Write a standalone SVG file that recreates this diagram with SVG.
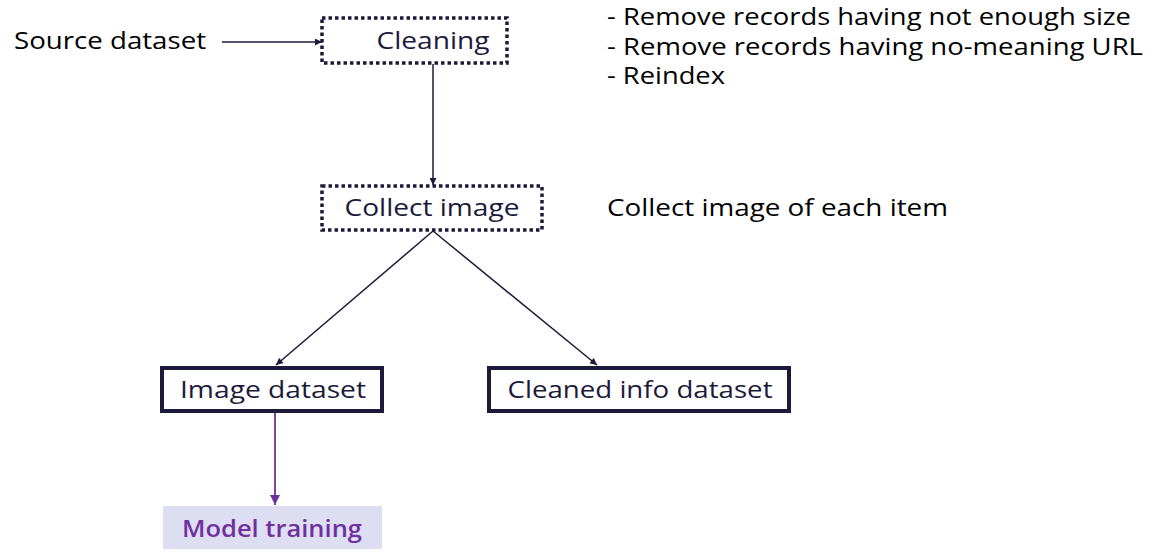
<svg xmlns="http://www.w3.org/2000/svg" width="1176" height="560" viewBox="0 0 1176 560">
<style>
text{font-family:"Open Sans","Liberation Sans",sans-serif;font-size:23px}
.lbl{fill:#1c1a3a;text-anchor:middle}
.note{fill:#000}
.dot{fill:#fff;stroke:#1c1a3a;stroke-width:3.5;stroke-dasharray:3.5 3}
.solid{fill:#fff;stroke:#1c1a3a;stroke-width:4}
.con{stroke:#1c1a3a;stroke-width:1.5;fill:none}
</style>
<defs>
<marker id="ah" viewBox="0 0 10 10" refX="10" refY="5" markerWidth="7" markerHeight="7" markerUnits="userSpaceOnUse" orient="auto"><path d="M0,0L10,5L0,10z" fill="#1c1a3a"/></marker>
<marker id="ahp" viewBox="0 0 10 10" refX="10" refY="5" markerWidth="10" markerHeight="10" markerUnits="userSpaceOnUse" orient="auto"><path d="M0,0L10,5L0,10z" fill="#7030a0"/></marker>
</defs>
<g id="connectors">
<line class="con" x1="222" y1="42" x2="322" y2="42" marker-end="url(#ah)"/>
<line class="con" x1="433" y1="64" x2="433" y2="185" marker-end="url(#ah)"/>
<line class="con" x1="433" y1="231" x2="276" y2="365" marker-end="url(#ah)"/>
<line class="con" x1="433" y1="231" x2="597" y2="365" marker-end="url(#ah)"/>
<line x1="275" y1="412" x2="275" y2="505" stroke="#7030a0" stroke-width="1.8" marker-end="url(#ahp)"/>
</g>
<g id="source"><text class="note" x="14" y="49" textLength="192" lengthAdjust="spacingAndGlyphs">Source dataset</text></g>
<g id="cleaning"><rect class="dot" x="322" y="18" width="185" height="45"/><text class="lbl" x="433" y="49" textLength="113" lengthAdjust="spacingAndGlyphs">Cleaning</text></g>
<g id="cleaning-notes"><text class="note" x="607" y="25" textLength="524" lengthAdjust="spacingAndGlyphs">- Remove records having not enough size</text><text class="note" x="607" y="55" textLength="536" lengthAdjust="spacingAndGlyphs">- Remove records having no-meaning URL</text><text class="note" x="607" y="84" textLength="118" lengthAdjust="spacingAndGlyphs">- Reindex</text></g>
<g id="collect"><rect class="dot" x="322" y="186" width="220" height="44"/><text class="lbl" x="432" y="216" textLength="175" lengthAdjust="spacingAndGlyphs">Collect image</text></g>
<g id="collect-note"><text class="note" x="607" y="216" textLength="341" lengthAdjust="spacingAndGlyphs">Collect image of each item</text></g>
<g id="image-dataset"><rect class="solid" x="162" y="368" width="220" height="43"/><text class="lbl" x="273" y="398" textLength="186" lengthAdjust="spacingAndGlyphs">Image dataset</text></g>
<g id="cleaned-info"><rect class="solid" x="489" y="368" width="300" height="43"/><text class="lbl" x="640" y="398" textLength="265" lengthAdjust="spacingAndGlyphs">Cleaned info dataset</text></g>
<g id="model-training"><rect x="163" y="506" width="219" height="43" fill="#dedef2"/><text class="lbl" x="272" y="537" textLength="180" lengthAdjust="spacingAndGlyphs" style="fill:#7030a0;font-weight:600">Model training</text></g>
</svg>
